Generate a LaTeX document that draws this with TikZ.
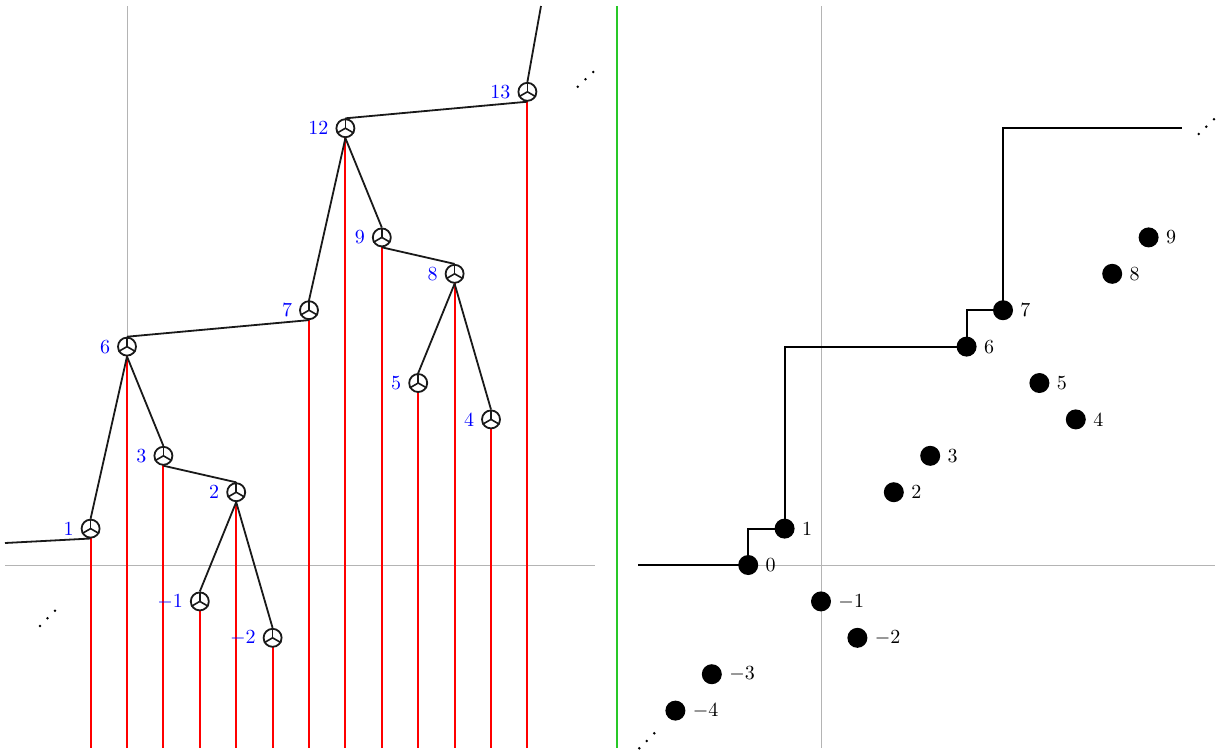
\documentclass[tikz,border=0pt]{standalone}
\usetikzlibrary{calc,backgrounds}
\definecolor{axisgray}{RGB}{180,180,180}
\definecolor{sepgreen}{RGB}{40,200,40}
\tikzset{
  tnode/.style={circle,draw=black!90,line width=0.9pt,fill=white,minimum size=9pt,inner sep=0pt},
  spoke/.style={line width=0.8pt,black!90},
  tedge/.style={line width=0.9pt,black!90},
  redline/.style={line width=0.95pt,red},
  axisline/.style={line width=0.5pt,axisgray},
  dotnode/.style={circle,fill=black,minimum size=10pt,inner sep=0pt},
  tlabel/.style={text=blue},
  stair/.style={line width=0.9pt,black},
  tinydot/.style={fill=black}
}
\begin{document}
\begin{tikzpicture}[x=0.5pt,y=-0.5pt]
\useasboundingbox (0,0) rectangle (1220,752);
\coordinate (bottom) at (0,748);
\coordinate (topend) at (541,6);
\coordinate (leftend) at (5,543);
\coordinate (rstart) at (638,565);
\coordinate (rend) at (1182,128);
% left tree nodes
\foreach \n/\xi/\k/\t in {l1/-1/1/1, l6/0/6/6, l3/1/3/3, lm1/2/-1/$-1$, l2/3/2/2, lm2/4/-2/$-2$, l7/5/7/7, l12/6/12/12, l9/7/9/9, l5/8/5/5, l8/9/8/8, l4/10/4/4, l13/11/13/13}{
  \node[tnode,label={[tlabel]left:\t}] (\n) at (127+36.4*\xi,565-36.4*\k) {};
}
\begin{pgfonlayer}{background}
% axes
\draw[axisline] (127,6) -- (127,748);
\draw[axisline] (5,565) -- (595,565);
\draw[axisline] (821,6) -- (821,748);
\draw[axisline] (638,565) -- (1215,565);
\draw[line width=0.8pt,sepgreen] (617,6) -- (617,748);
% red lines
\foreach \n in {l1,l6,l3,lm1,l2,lm2,l7,l12,l9,l5,l8,l4,l13}{
  \draw[redline] (\n.center) -- (\n.center |- bottom);
}
% tree edges
\draw[tedge] (leftend) -- (l1.south);
\draw[tedge] (l1.north) -- (l6.south);
\draw[tedge] (l3.north) -- (l6.south);
\draw[tedge] (l2.north) -- (l3.south);
\draw[tedge] (lm1.north) -- (l2.south);
\draw[tedge] (lm2.north) -- (l2.south);
\draw[tedge] (l6.north) -- (l7.south);
\draw[tedge] (l7.north) -- (l12.south);
\draw[tedge] (l9.north) -- (l12.south);
\draw[tedge] (l8.north) -- (l9.south);
\draw[tedge] (l5.north) -- (l8.south);
\draw[tedge] (l4.north) -- (l8.south);
\draw[tedge] (l12.north) -- (l13.south);
\draw[tedge] (l13.north) -- (topend);
\end{pgfonlayer}
% spokes
\foreach \n in {l1,l6,l3,lm1,l2,lm2,l7,l12,l9,l5,l8,l4,l13}{
  \draw[spoke] (\n.center) -- (\n.north);
  \draw[spoke] (\n.center) -- (\n.-150);
  \draw[spoke] (\n.center) -- (\n.-30);
}
% right panel dots
\foreach \n/\xi/\k/\t in {r0/-2/0/0, r1/-1/1/1, r2/2/2/2, r3/3/3/3, r4/7/4/4, r5/6/5/5, r6/4/6/6, r7/5/7/7, r8/8/8/8, r9/9/9/9, rm1/0/-1/$-1$, rm2/1/-2/$-2$, rm3/-3/-3/$-3$, rm4/-4/-4/$-4$}{
  \node[dotnode,label={right:\t}] (\n) at (821+36.4*\xi,565-36.4*\k) {};
}
\begin{pgfonlayer}{background}
\draw[stair] (rstart) -- (r0.center) -- (r0.center |- r1.center) -- (r1.center)
  -- (r1.center |- r6.center) -- (r6.center) -- (r6.center |- r7.center) -- (r7.center)
  -- (r7.center |- rend) -- (rend);
\end{pgfonlayer}
% ellipsis dots
\foreach \a/\b in {577.7/86.7, 585.5/79.3, 593.3/72,
                   40/626, 47.5/618.3, 55/610.7,
                   1198.7/134, 1206.3/126.7, 1214/119.3,
                   639.3/748.3, 646.8/741, 654.3/733.3}{
  \fill[tinydot] (\a,\b) circle (0.7pt);
}
\end{tikzpicture}
\end{document}
